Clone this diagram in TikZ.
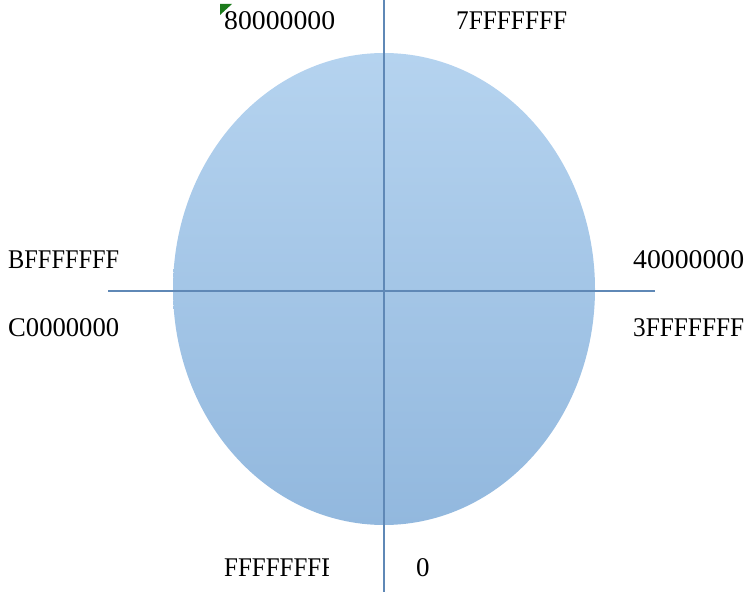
\documentclass[tikz,border=0pt]{standalone}
\usepackage{fontspec}
\usepackage{graphicx}
\setmainfont{Liberation Serif}
\definecolor{axis}{HTML}{5F88B6}
\definecolor{fillTop}{HTML}{B5D3EF}
\definecolor{fillBot}{HTML}{92B8DE}
\definecolor{cmtgreen}{HTML}{1B7A1B}
\newcommand\fitlbl[1]{\resizebox{111pt}{\height}{#1}}
\tikzset{
  lbl/.style={anchor=base west, inner sep=0pt, font=\fontsize{27}{29}\selectfont},
  axisline/.style={draw=axis, line width=1.3pt}
}
\begin{document}
\begin{tikzpicture}[x=1pt,y=-1pt]
\useasboundingbox (0,0) rectangle (756,604);
\shade[top color=fillTop, bottom color=fillBot] (384,289) ellipse [x radius=211, y radius=236];
\coordinate (vt) at (384,0);
\coordinate (vb) at (384,592);
\coordinate (hl) at (108,291);
\coordinate (hr) at (655,291);
\draw[axisline] (vt) -- (vb);
\draw[axisline] (hl) -- (hr);
\node[lbl] (a) at (224,30) {\fitlbl{80000000}};
\node[lbl] (b) at (456,30) {\fitlbl{7FFFFFFF}};
\node[lbl] (c) at (8,269) {\fitlbl{BFFFFFFF}};
\node[lbl] (d) at (633,269) {\fitlbl{40000000}};
\node[lbl] (e) at (8,337) {\fitlbl{C0000000}};
\node[lbl] (f) at (633,337) {\fitlbl{3FFFFFFF}};
\begin{scope}
\clip (200,540) rectangle (328,600);
\node[lbl] (g) at (224,576) {\fitlbl{FFFFFFFF}};
\end{scope}
\node[lbl] (h) at (416,576) {0};
\fill[cmtgreen] (220,4) -- (232,4) -- (220,15) -- cycle;
\end{tikzpicture}
\end{document}
